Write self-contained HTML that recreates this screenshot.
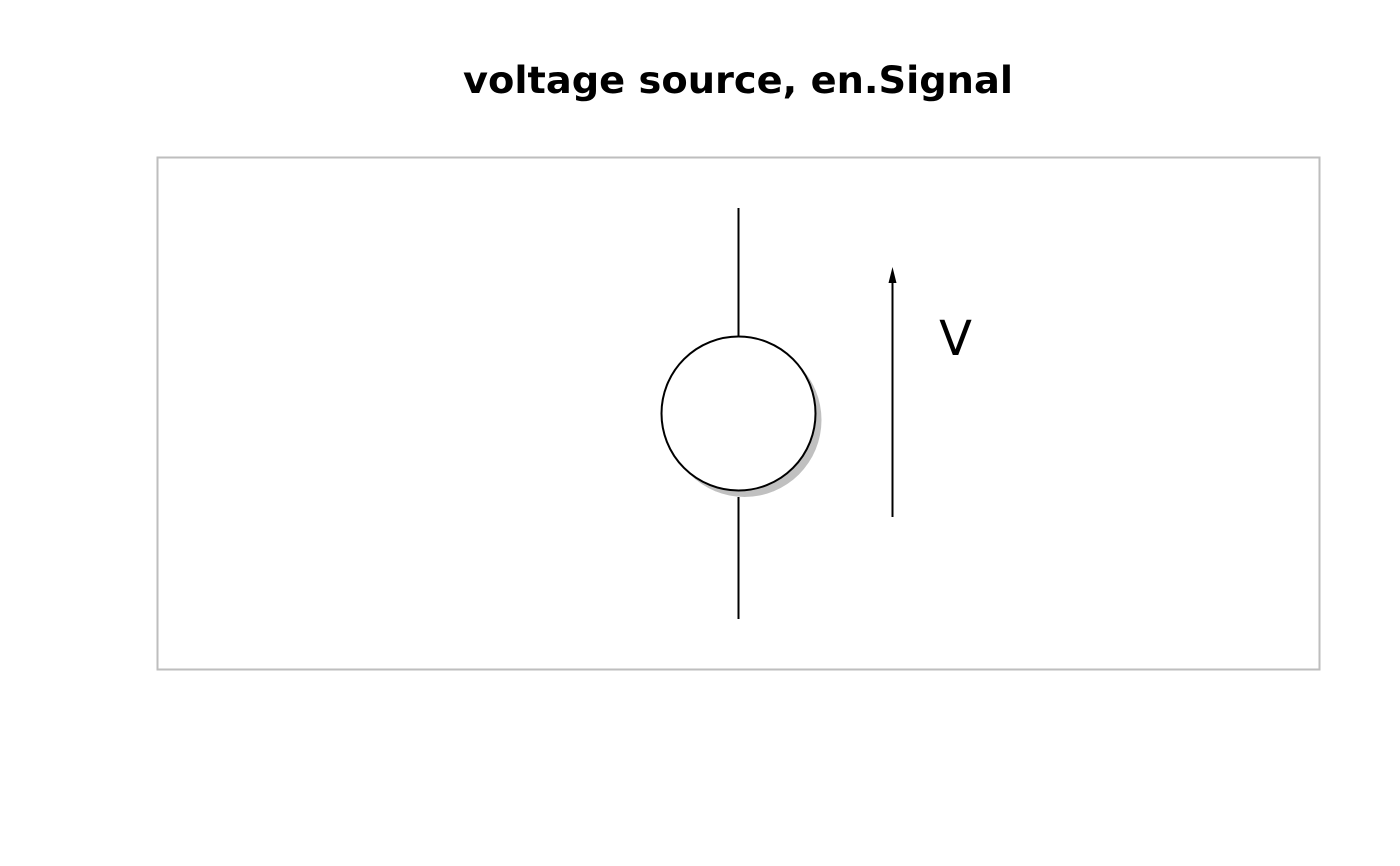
<!DOCTYPE html>
<html><head><meta charset="utf-8"><style>html,body{margin:0;padding:0;background:#fff}svg{display:block}</style></head>
<body>
<svg width="1400" height="866" viewBox="0 0 1400 866" xmlns="http://www.w3.org/2000/svg">
<rect width="1400" height="866" fill="#fff"/>
<text x="738" y="93" text-anchor="middle" font-family="DejaVu Sans, sans-serif" font-weight="bold" font-size="37" textLength="550" lengthAdjust="spacingAndGlyphs">voltage source, en.Signal</text>
<rect x="157.5" y="157.5" width="1162" height="512" fill="none" stroke="#bebebe" stroke-width="2"/>
<line x1="738.5" y1="208" x2="738.5" y2="337" stroke="#000" stroke-width="2"/>
<line x1="738.5" y1="497" x2="738.5" y2="619" stroke="#000" stroke-width="2"/>
<circle cx="744.5" cy="420" r="77" fill="#c0c0c0"/>
<circle cx="738.5" cy="413.5" r="77" fill="#fff" stroke="#000" stroke-width="2"/>
<line x1="892.5" y1="517" x2="892.5" y2="280" stroke="#000" stroke-width="2"/>
<polygon points="892.5,267 888.5,283 896.5,283" fill="#000"/>
<text x="955.5" y="355" text-anchor="middle" font-family="DejaVu Sans, sans-serif" font-size="48">V</text>
</svg>
</body></html>
